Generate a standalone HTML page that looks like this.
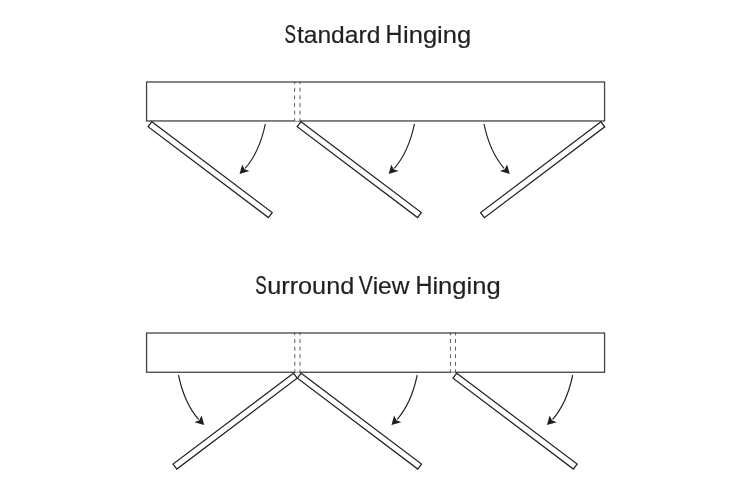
<!DOCTYPE html>
<html><head><meta charset="utf-8"><title>Hinging</title>
<style>
html,body{margin:0;padding:0;background:#fff;width:750px;height:500px;overflow:hidden}
svg{display:block}
.t{will-change:transform}
text{font-family:"Liberation Sans",sans-serif;fill:#231f20;stroke:#231f20;stroke-width:0.2}
.l{fill:none;stroke:#444;stroke-width:1.3}
.d{stroke:#231f20;stroke-width:1.25;stroke-linejoin:miter}
.dash{fill:none;stroke:#444;stroke-width:0.85;stroke-dasharray:4 3.6}
.gap{stroke:#fff;stroke-width:1.2;opacity:.8}
.a{fill:none;stroke:#231f20;stroke-width:1.2}
.h{fill:#231f20;stroke:none}
</style></head>
<body>
<svg width="750" height="500" viewBox="0 0 750 500">
<rect width="750" height="500" fill="#fff"/>
<g class="t">
<text y="43"><tspan x="284.42" font-size="25.2" textLength="11.5" lengthAdjust="spacingAndGlyphs">S</tspan><tspan x="296.96" font-size="23.4" textLength="83.38" lengthAdjust="spacingAndGlyphs">tandard</tspan> <tspan x="385.57" font-size="25.2" textLength="16.95" lengthAdjust="spacingAndGlyphs">H</tspan><tspan x="403.0" font-size="23.4" textLength="68.23" lengthAdjust="spacingAndGlyphs">inging</tspan></text>
<text y="294"><tspan x="255.22" font-size="25.2" textLength="11.5" lengthAdjust="spacingAndGlyphs">S</tspan><tspan x="267.22" font-size="23.4" textLength="86.99" lengthAdjust="spacingAndGlyphs">urround</tspan> <tspan x="358.84" font-size="25.2" textLength="14.06" lengthAdjust="spacingAndGlyphs">V</tspan><tspan x="372.67" font-size="23.4" textLength="36.83" lengthAdjust="spacingAndGlyphs">iew</tspan> <tspan x="415.61" font-size="25.2" textLength="16.95" lengthAdjust="spacingAndGlyphs">H</tspan><tspan x="432.4" font-size="23.4" textLength="68.23" lengthAdjust="spacingAndGlyphs">inging</tspan></text>
</g>
<rect class="l" x="146.56" y="82" width="458" height="38.95"/>
<line class="dash" x1="294.60" y1="81.40" x2="294.60" y2="120.80" stroke-dashoffset="1.20"/>
<line class="dash" x1="300.00" y1="81.40" x2="300.00" y2="120.80" stroke-dashoffset="1.20"/>
<line class="gap" x1="295.3" y1="120.5" x2="299.3" y2="120.5"/>
<polygon class="d" fill="#fff" points="151.85,121.65 272.20,212.51 268.41,217.54 148.05,126.68"/>
<polygon class="d" fill="#fff" points="301.00,121.65 421.35,212.51 417.56,217.54 297.20,126.68"/>
<polygon class="d" fill="#fff" points="600.95,121.75 480.60,212.61 484.39,217.64 604.75,126.78"/>
<path class="a" d="M265.30,124.00 Q259.50,152.00 245.20,168.30"/><polygon class="h" points="239.55,174.00 242.20,164.40 244.60,169.20 249.40,171.10"/>
<path class="a" d="M414.40,124.00 Q408.60,152.00 394.30,168.30"/><polygon class="h" points="388.65,174.00 391.30,164.40 393.70,169.20 398.50,171.10"/>
<path class="a" d="M484.00,124.00 Q489.80,152.00 504.10,168.30"/><polygon class="h" points="509.75,174.00 507.10,164.40 504.70,169.20 499.90,171.10"/>
<rect class="l" x="146.56" y="333" width="458" height="39.25"/>
<line class="dash" x1="294.80" y1="332.40" x2="294.80" y2="372.00" stroke-dashoffset="1.00"/>
<line class="dash" x1="300.00" y1="332.40" x2="300.00" y2="372.00" stroke-dashoffset="1.00"/>
<line class="dash" x1="450.40" y1="332.40" x2="450.40" y2="372.00" stroke-dashoffset="1.00"/>
<line class="dash" x1="455.50" y1="332.40" x2="455.50" y2="372.00" stroke-dashoffset="1.00"/>
<line class="gap" x1="295.5" y1="372.0" x2="299.3" y2="372.0"/>
<line class="gap" x1="451.1" y1="372.0" x2="454.8" y2="372.0"/>
<polygon class="d" fill="none" points="293.40,373.20 173.05,464.06 176.84,469.09 297.20,378.23"/>
<polygon class="d" fill="none" points="301.20,373.20 421.55,464.06 417.76,469.09 297.40,378.23"/>
<polygon class="d" fill="#fff" points="456.80,373.20 577.15,464.06 573.36,469.09 453.00,378.23"/>
<path class="a" d="M178.50,375.10 Q184.30,403.10 198.60,419.40"/><polygon class="h" points="204.25,425.10 201.60,415.50 199.20,420.30 194.40,422.20"/>
<path class="a" d="M417.20,375.10 Q411.40,403.10 397.10,419.40"/><polygon class="h" points="391.45,425.10 394.10,415.50 396.50,420.30 401.30,422.20"/>
<path class="a" d="M572.70,375.10 Q566.90,403.10 552.60,419.40"/><polygon class="h" points="546.95,425.10 549.60,415.50 552.00,420.30 556.80,422.20"/>
</svg>
</body></html>
